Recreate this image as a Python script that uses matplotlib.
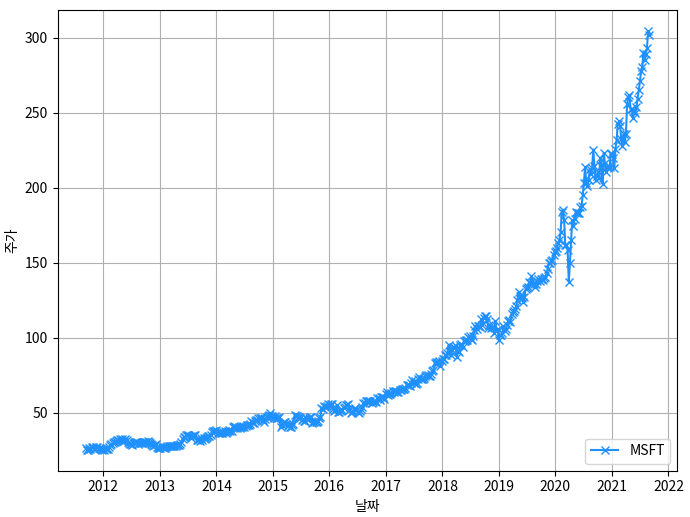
import matplotlib
matplotlib.use("Agg")
import matplotlib.pyplot as plt
import matplotlib.dates as mdates
import pandas as pd

plt.rcParams['font.family'] = ['Noto Sans CJK KR', 'DejaVu Sans']
plt.rcParams['axes.unicode_minus'] = False

# Weekly-ish closing prices (about four readings per month)
prices_2011 = [26.5, 25.4, 25.3, 26.5, 25.8, 27.0, 27.2, 25.5, 26.0, 27.0, 27.2, 26.6,
               26.8, 25.5, 25.4, 25.6, 25.4, 25.5, 26.0, 26.0]  # Sep-Dec
prices_2012 = [27.0, 28.2, 29.3, 29.5, 30.2, 30.8, 31.3, 31.7, 32.0, 32.6, 32.0, 32.3,
               31.2, 31.0, 32.2, 32.0, 30.6, 29.5, 29.0, 29.2, 28.5, 29.5, 30.5, 30.6,
               30.2, 29.0, 29.5, 29.5, 29.6, 30.3, 30.8, 30.8, 30.5, 31.2, 30.5, 29.8,
               29.4, 28.8, 28.0, 28.5, 29.0, 27.0, 26.5, 26.6, 26.7, 27.3, 27.1, 26.7]
prices_2013 = [26.8, 27.2, 27.5, 27.6, 27.8, 28.0, 27.7, 27.8, 28.0, 28.0, 28.2, 28.6,
               28.6, 29.0, 30.8, 32.6, 33.5, 33.5, 34.9, 34.9, 35.0, 34.4, 33.3, 34.5,
               34.4, 35.4, 35.3, 31.8, 31.8, 32.4, 31.4, 33.4, 31.7, 33.0, 32.8, 33.3,
               33.7, 34.6, 34.2, 35.4, 37.2, 37.8, 37.6, 38.1, 38.4, 36.8, 36.8, 37.4]
prices_2014 = [36.4, 36.7, 37.0, 37.8, 36.5, 37.2, 37.5, 38.3, 38.0, 38.0, 40.3, 40.9,
               39.8, 40.5, 39.5, 40.4, 39.5, 40.3, 40.3, 40.9, 40.5, 41.2, 41.7, 41.7,
               41.9, 42.4, 44.5, 43.2, 42.9, 44.5, 45.3, 45.4, 46.4, 46.7, 46.6, 46.4,
               45.0, 43.6, 46.1, 46.9, 47.6, 48.7, 49.5, 47.8, 47.5, 46.8, 48.0, 46.5]
prices_2015 = [46.3, 46.2, 47.0, 40.4, 42.0, 43.0, 43.9, 43.8, 42.4, 41.4, 42.3, 40.7,
               40.3, 41.6, 42.6, 48.6, 47.6, 48.0, 47.0, 46.9, 46.4, 45.1, 46.1, 44.2,
               44.6, 46.6, 45.9, 46.7, 47.0, 47.0, 43.1, 43.5, 43.5, 43.5, 43.9, 44.3,
               46.7, 47.0, 52.9, 52.6, 54.2, 54.0, 53.7, 54.3, 55.9, 55.1, 55.6, 55.5]
prices_2016 = [52.3, 51.0, 51.8, 55.1, 50.2, 50.5, 51.8, 51.0, 52.0, 53.1, 53.5, 55.2,
               55.0, 55.7, 51.8, 49.9, 50.4, 51.1, 52.3, 53.0, 51.8, 50.4, 49.8, 51.2,
               52.3, 53.7, 56.6, 56.7, 57.9, 58.0, 57.6, 57.5, 57.7, 56.2, 57.4, 57.6,
               57.8, 57.4, 59.7, 59.9, 58.7, 60.6, 60.5, 60.3, 59.2, 62.3, 63.5, 62.1]
prices_2017 = [62.8, 62.7, 63.0, 64.7, 63.7, 64.6, 64.6, 64.0, 64.0, 64.9, 64.9, 65.9,
               65.7, 65.5, 66.4, 68.5, 68.8, 68.4, 67.7, 69.8, 71.8, 70.0, 71.0, 68.9,
               69.5, 72.8, 73.8, 72.7, 72.3, 72.5, 73.0, 74.8, 75.0, 75.3, 74.2, 74.5,
               75.8, 77.5, 78.8, 83.2, 84.1, 82.9, 83.9, 84.2, 81.1, 84.7, 85.5, 85.5]
prices_2018 = [88.2, 88.4, 90.0, 95.0, 91.3, 88.2, 92.0, 93.8, 93.8, 94.6, 87.2, 91.3,
               90.2, 95.0, 95.8, 93.5, 97.9, 97.7, 98.4, 98.8, 100.8, 101.0, 99.1, 98.6,
               101.2, 105.0, 107.9, 106.1, 108.0, 107.5, 107.1, 112.3, 108.7, 113.4, 114.3, 114.4,
               112.3, 106.2, 108.5, 106.8, 107.0, 107.3, 103.1, 110.9, 104.8, 106.0, 98.2, 101.6]
prices_2019 = [102.1, 103.0, 107.7, 104.4, 105.7, 108.2, 110.9, 112.0, 110.5, 115.9, 117.1, 118.0,
               119.4, 121.0, 125.4, 130.6, 128.0, 127.0, 126.2, 123.7, 127.0, 132.5, 133.2, 133.9,
               137.1, 136.6, 141.3, 136.3, 135.7, 133.7, 135.7, 137.9, 139.1, 137.5, 139.4, 139.0,
               138.2, 139.7, 140.7, 143.4, 145.9, 149.9, 149.6, 151.4, 151.8, 155.0, 157.4, 157.7]
prices_2020 = [160.1, 163.2, 165.0, 170.2, 183.9, 185.4, 178.6, 162.0, 161.6, 158.8, 137.4, 149.7,
               165.1, 178.6, 174.6, 179.2, 184.0, 183.2, 183.5, 183.3, 187.2, 188.0, 195.2, 203.5,
               213.7, 202.9, 201.3, 205.0, 212.5, 208.9, 213.0, 225.5, 214.3, 205.4, 207.8, 210.3,
               206.2, 219.7, 214.7, 202.5, 223.3, 216.5, 210.4, 214.1, 214.4, 214.0, 222.8, 222.4]
prices_2021 = [219.6, 213.0, 225.9, 231.9, 242.2, 244.2, 240.9, 232.4, 227.6, 235.8, 230.4, 235.8,
               255.9, 260.7, 261.6, 252.2, 252.5, 246.5, 251.5, 249.7, 253.6, 259.4, 265.0, 270.9,
               277.7, 280.8, 289.7, 284.9, 289.5, 292.9, 304.4, 301.9]  # Jan-Aug

prices = (prices_2011 + prices_2012 + prices_2013 + prices_2014 + prices_2015 + prices_2016
          + prices_2017 + prices_2018 + prices_2019 + prices_2020 + prices_2021)

dates = pd.date_range('2011-09-09', '2021-08-30', periods=len(prices))

fig = plt.figure(figsize=(6.9, 5.17), dpi=100)
ax = fig.add_axes([0.0835, 0.0896, 0.8983, 0.8905])
ax.plot(dates, prices, marker='x', color='dodgerblue', label='MSFT')
ax.xaxis.set_major_locator(mdates.YearLocator(1))
ax.xaxis.set_major_formatter(mdates.DateFormatter('%Y'))
ax.set_xlabel('날짜')
ax.set_ylabel('주가')
ax.grid(True)
ax.legend(loc='lower right')
fig.savefig('out.png', dpi=100)
